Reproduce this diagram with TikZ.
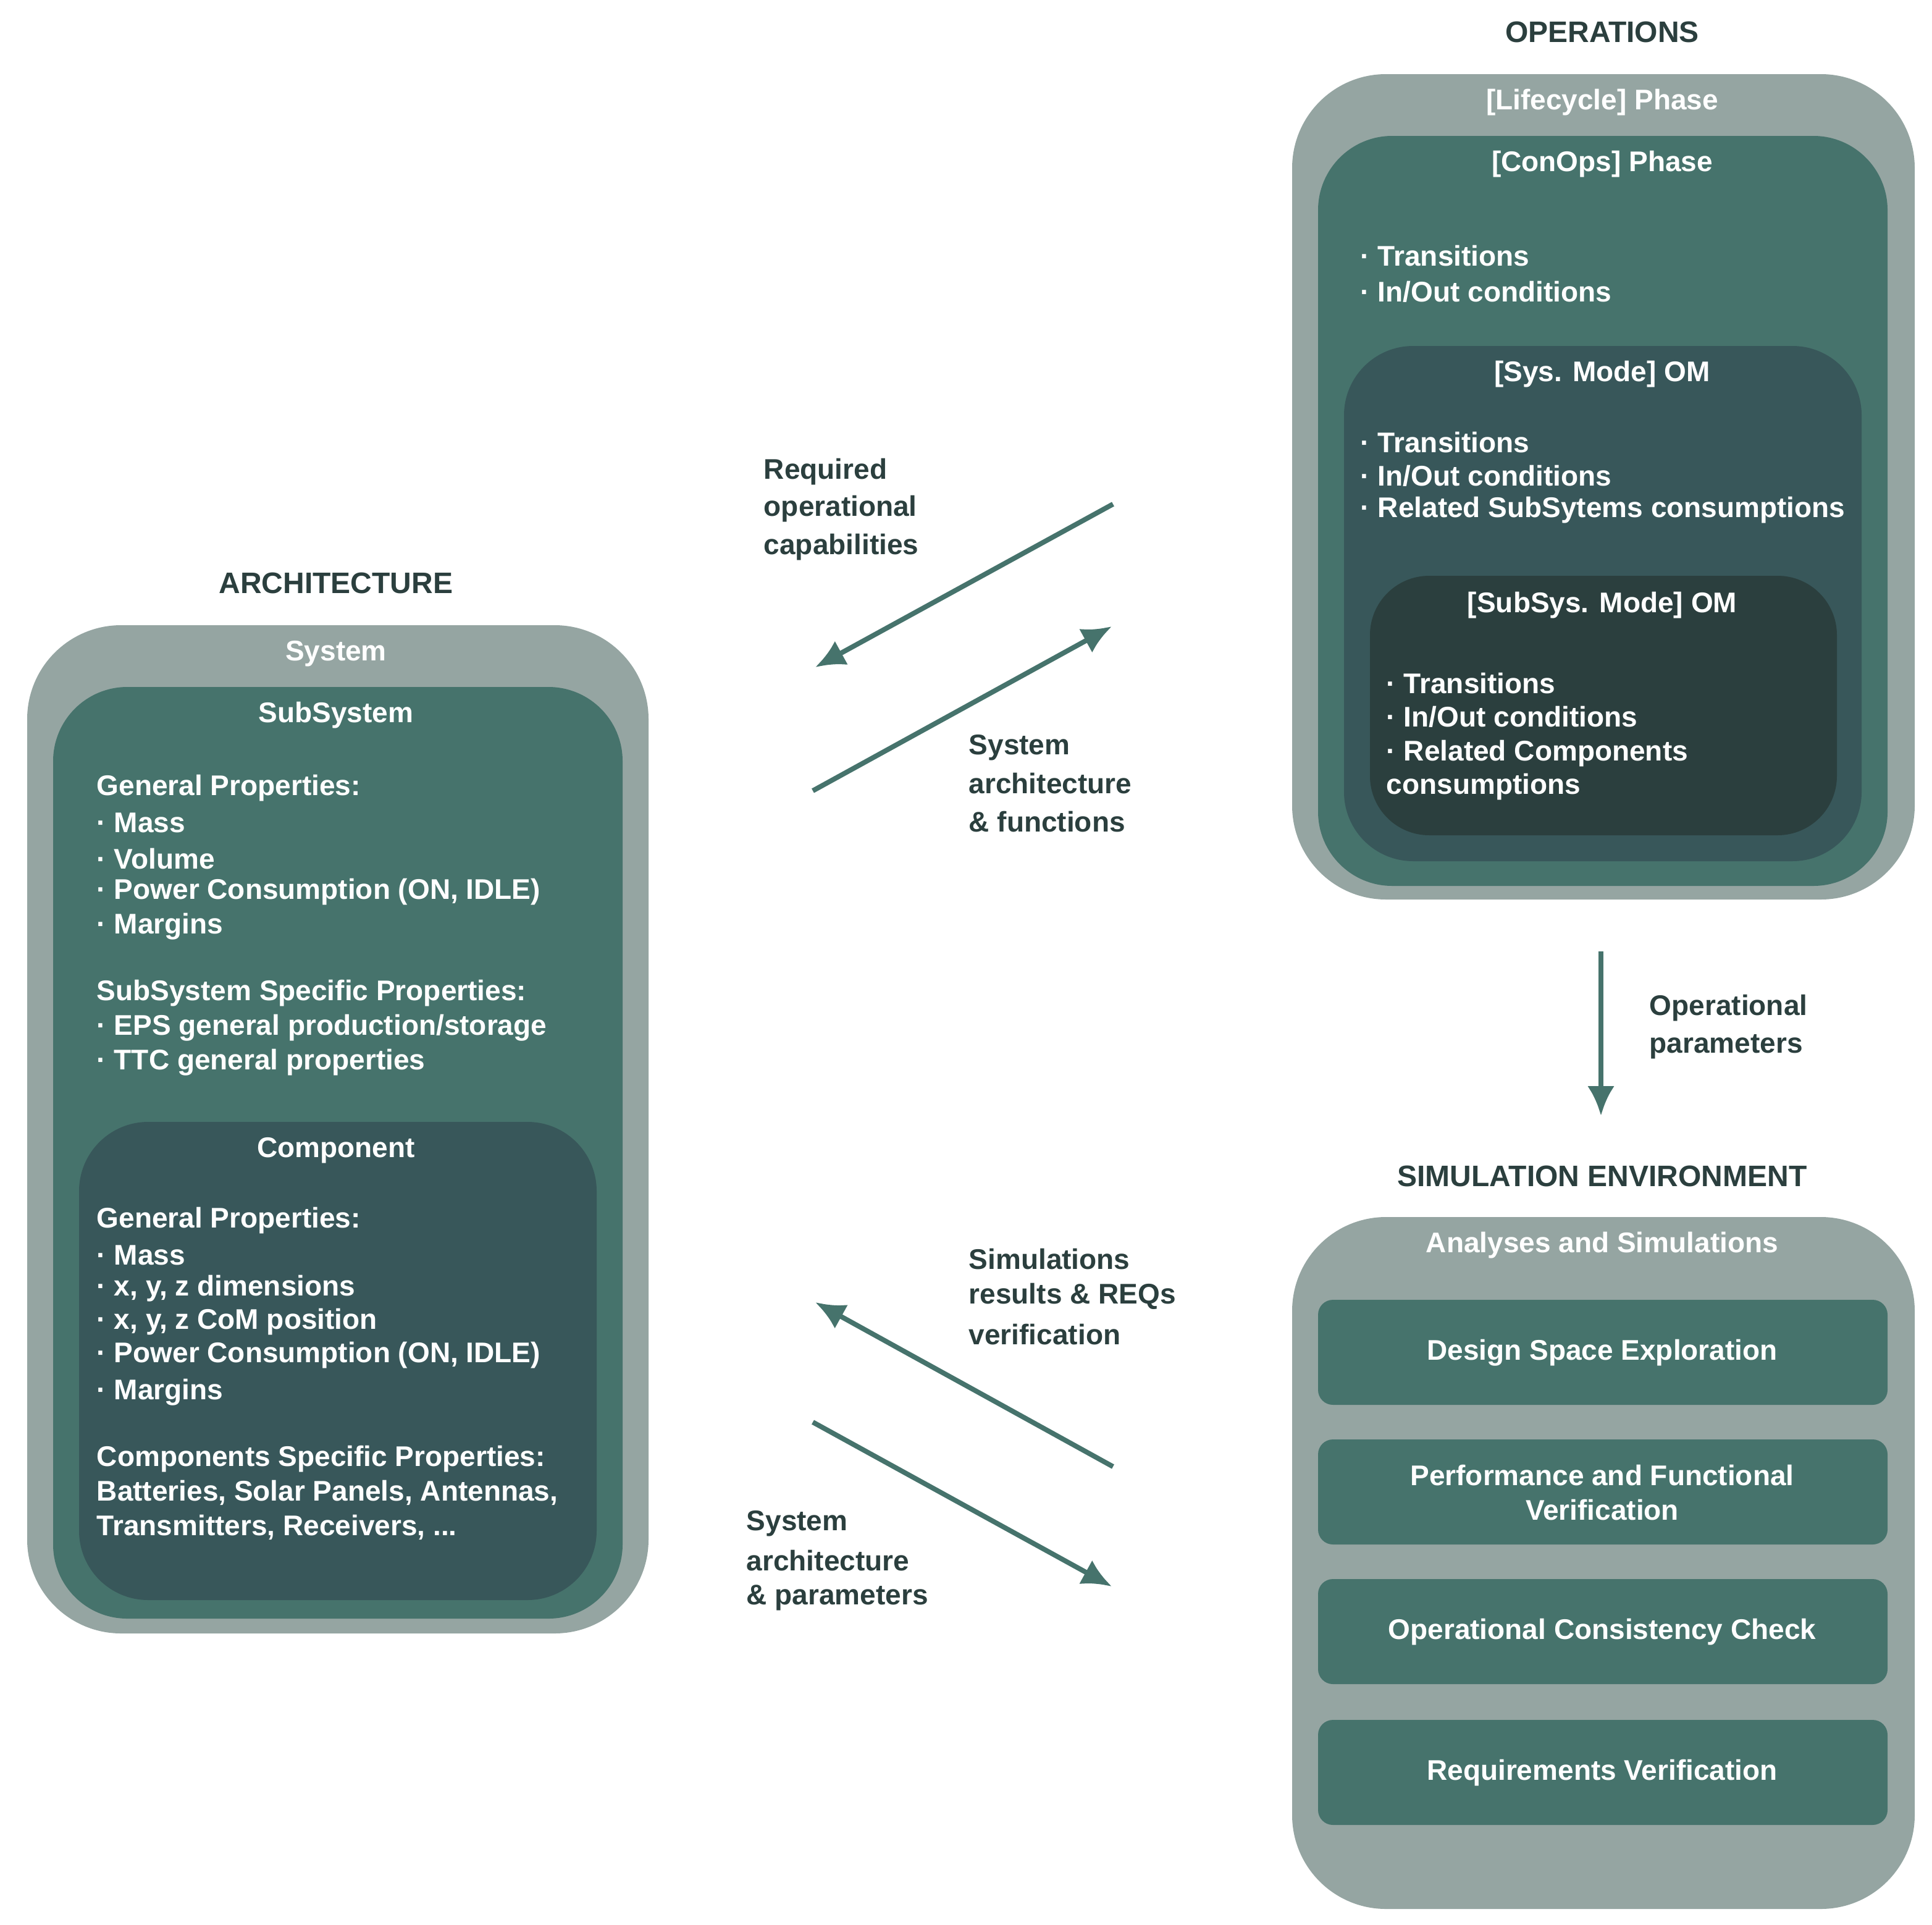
\documentclass[tikz,border=0pt]{standalone}
\usepackage{fontspec}
\setmainfont{Liberation Sans}
\usetikzlibrary{arrows.meta}
\definecolor{cgray}{HTML}{95A5A2}
\definecolor{cteal}{HTML}{46736C}
\definecolor{cdark}{HTML}{38575A}
\definecolor{cdeep}{HTML}{2B3F3E}
\begin{document}
\begin{tikzpicture}[x=0.5pt,y=-0.5pt,
  every node/.style={font=\fontsize{11.5}{14}\selectfont\bfseries},
  wt/.style={text=white,inner sep=0pt},
  ttl/.style={text=cdeep,inner sep=0pt,font=\fontsize{12}{14}\selectfont\bfseries},
  lbl/.style={text=cdeep,inner sep=0pt,anchor=west},
  ln/.style={wt,anchor=west},
  arr/.style={draw=cteal,line width=2pt,-{Latex[length=12pt,width=11pt]}}]
\useasboundingbox (0,0) rectangle (1564,1558);
% OPERATIONS
\node[ttl] (opt) at (1297,26) {OPERATIONS};
\fill[cgray,rounded corners=38pt] (1046,60) rectangle (1550,728);
\fill[cteal,rounded corners=30pt] (1067,110) rectangle (1528,717);
\fill[cdark,rounded corners=28pt] (1088,280) rectangle (1507,697);
\fill[cdeep,rounded corners=24pt] (1109,466) rectangle (1487,676);
\node[wt] (lc) at (1297,83) {[Lifecycle] Phase};
\node[wt] (co) at (1297,133) {[ConOps] Phase};
\node[wt] (sm) at (1297,303) {[Sys. Mode] OM};
\node[wt] (ss) at (1297,490) {[SubSys. Mode] OM};
\foreach \y/\t [count=\i] in {207/{· Transitions},236/{· In/Out conditions},358/{· Transitions},385/{· In/Out conditions},413/{· Related SubSytems consumptions}}
  \node[ln] (o\i) at (1101,\y) {\t};
\foreach \y/\t [count=\i] in {553/{· Transitions},580/{· In/Out conditions},610/{· Related Components},637/{consumptions}}
  \node[ln] (s\i) at (1122,\y) {\t};
% ARCHITECTURE
\node[ttl] (at) at (272,472) {ARCHITECTURE};
\fill[cgray,rounded corners=38pt] (22,506) rectangle (525,1322);
\fill[cteal,rounded corners=30pt] (43,556) rectangle (504,1310);
\fill[cdark,rounded corners=28pt] (64,908) rectangle (483,1295);
\node[wt] (sys) at (272,529) {System};
\node[wt] (sub) at (272,579) {SubSystem};
\node[wt] (cmp) at (272,931) {Component};
\foreach \y/\t [count=\i] in {638/{General Properties:},666/{· Mass},695/{· Volume},722/{· Power Consumption (ON, IDLE)},750/{· Margins},804/{SubSystem Specific Properties:},832/{· EPS general production/storage},860/{· TTC general properties},988/{General Properties:},1016/{· Mass},1043/{· x, y, z dimensions},1070/{· x, y, z CoM position},1097/{· Power Consumption (ON, IDLE)},1127/{· Margins},1181/{Components Specific Properties:},1208/{Batteries, Solar Panels, Antennas,},1236/{Transmitters, Receivers, ...}}
  \node[ln] (a\i) at (78,\y) {\t};
% SIMULATION
\node[ttl] (st) at (1297,952) {SIMULATION ENVIRONMENT};
\fill[cgray,rounded corners=38pt] (1046,985) rectangle (1550,1545);
\node[wt] (an) at (1297,1008) {Analyses and Simulations};
\foreach \y/\t [count=\i] in {1052/{Design Space Exploration},1165/{Performance and Functional\\Verification},1278/{Operational Consistency Check},1392/{Requirements Verification}}{
  \fill[cteal,rounded corners=6pt] (1067,\y) rectangle (1528,\y+85);
  \node[wt,align=center] (b\i) at (1297,\y+43) {\t};
}
% arrows
\coordinate (p1) at (901,408); \coordinate (p2) at (660,540);
\coordinate (p3) at (658,640); \coordinate (p4) at (900,507);
\coordinate (p5) at (1296,770); \coordinate (p6) at (1296,903);
\coordinate (p7) at (901,1187); \coordinate (p8) at (660,1054);
\coordinate (p9) at (658,1151); \coordinate (p10) at (900,1284);
\draw[arr] (p1) -- (p2);
\draw[arr] (p3) -- (p4);
\draw[arr] (p5) -- (p6);
\draw[arr] (p7) -- (p8);
\draw[arr] (p9) -- (p10);
\foreach \x/\y/\t [count=\i] in {618/382/Required,618/412/operational,618/443/capabilities,784/605/System,784/634/architecture,784/665/{\& functions},1335/816/Operational,1335/847/parameters,784/1019/Simulations,784/1049/{results \& REQs},784/1080/verification,604/1233/System,604/1263/architecture,604/1293/{\& parameters}}
  \node[lbl] (l\i) at (\x,\y) {\t};
\end{tikzpicture}
\end{document}
